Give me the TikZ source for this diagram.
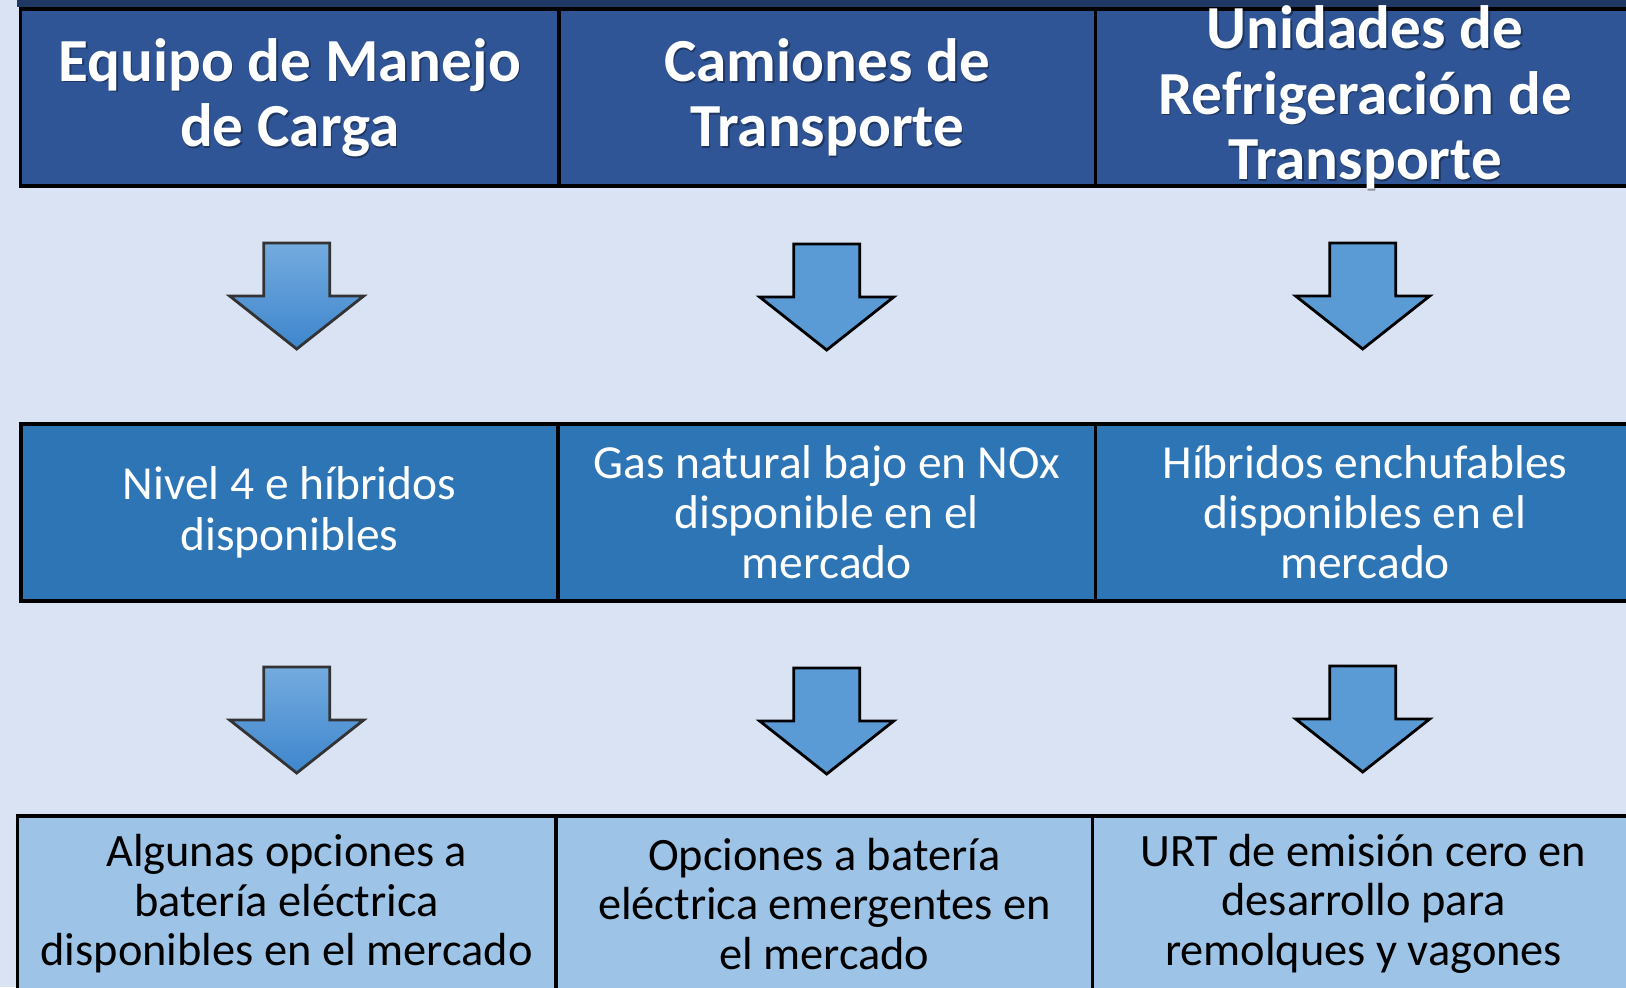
\documentclass[tikz,border=0pt]{standalone}
\usepackage{fontspec}
\setmainfont{Carlito}
\usepackage{tikz}
\usetikzlibrary{positioning}

\definecolor{pagebg}{HTML}{DAE3F3}
\definecolor{topband}{HTML}{203864}
\definecolor{hdrblue}{HTML}{2F5597}
\definecolor{midblue}{HTML}{2E75B6}
\definecolor{botblue}{HTML}{9DC3E6}
\definecolor{arrowblue}{HTML}{5B9BD5}
\definecolor{arrowtop}{HTML}{74ABDF}
\definecolor{arrowbot}{HTML}{3E86CD}

\tikzset{
  cell/.style={draw=black, line width=1pt, minimum height=1.77cm, inner sep=0pt},
  hdr/.style={cell, fill=hdrblue},
  mid/.style={cell, fill=midblue},
  bot/.style={cell, fill=botblue, minimum height=1.76cm},
  hdrtext/.style={text=white, font=\bfseries\fontsize{17.4}{18.6}\selectfont, align=center},
  hdrshade/.style={hdrtext, text=black, opacity=0.35},
  midtext/.style={text=white, font=\fontsize{13.5}{14.3}\selectfont, align=center},
  bottext/.style={text=black, font=\fontsize{13.2}{14.1}\selectfont, align=center},
  flatarrow/.style={draw=black, line width=0.8pt, fill=arrowblue},
  shadearrow/.style={draw=black!80, line width=0.8pt, top color=arrowtop, bottom color=arrowbot}
}

\begin{document}
\begin{tikzpicture}[x=0.01cm,y=-0.01cm]
  \useasboundingbox (0,0) rectangle (1626,987);
  \clip (0,0) rectangle (1626,987);
  \fill[pagebg] (0,0) rectangle (1626,987);
  \fill[topband] (17,-5) rectangle (1640,7.3);

  % header row
  \node[hdr, anchor=north west, minimum width=5.383cm] (hdrA) at (18.7,7.3) {};
  \node[hdr, minimum width=5.36cm, right=-1pt of hdrA] (hdrB) {};
  \node[hdr, minimum width=5.39cm, right=-1pt of hdrB] (hdrC) {};
  \foreach \n/\t in {hdrA/{Equipo de Manejo\\de Carga},
                     hdrB/{Camiones de\\Transporte},
                     hdrC/{Unidades de\\Refrigeración de\\Transporte}} {
    \node[hdrshade] at ([shift={(1.6,1.6)}]\n.center) {\t};
    \node[hdrtext] at (\n.center) {\t};
  }

  % middle row
  \node[mid, anchor=north west, minimum width=5.37cm] (midA) at (19,422) {};
  \node[mid, minimum width=5.37cm, right=-1pt of midA] (midB) {};
  \node[mid, minimum width=5.39cm, right=-1pt of midB] (midC) {};
  \node[midtext] at (midA.center) {Nivel 4 e híbridos\\disponibles};
  \node[midtext] at (midB.center) {Gas natural bajo en NOx\\disponible en el\\mercado};
  \node[midtext] at (midC.center) {Híbridos enchufables\\disponibles en el\\mercado};

  % bottom row
  \node[bot, anchor=north west, minimum width=5.385cm] (botA) at (15.5,814) {};
  \node[bot, minimum width=5.36cm, right=-1pt of botA] (botB) {};
  \node[bot, minimum width=5.42cm, right=-1pt of botB] (botC) {};
  \node[bottext] at (botA.center) {Algunas opciones a\\batería eléctrica\\disponibles en el mercado};
  \node[bottext] at (botB.center) {Opciones a batería\\eléctrica emergentes en\\el mercado};
  \node[bottext] at (botC.center) {URT de emisión cero en\\desarrollo para\\remolques y vagones};

  % block arrows
  \foreach \cx/\ty/\sty in {296.7/243/shadearrow, 826.7/244/flatarrow, 1362.7/243/flatarrow,
                            296.7/667/shadearrow, 826.7/668/flatarrow, 1362.7/666/flatarrow}
    \draw[\sty] (\cx-33,\ty) -- (\cx+33,\ty) -- (\cx+33,\ty+53) -- (\cx+67,\ty+53)
      -- (\cx,\ty+106) -- (\cx-67,\ty+53) -- (\cx-33,\ty+53) -- cycle;
\end{tikzpicture}
\end{document}
